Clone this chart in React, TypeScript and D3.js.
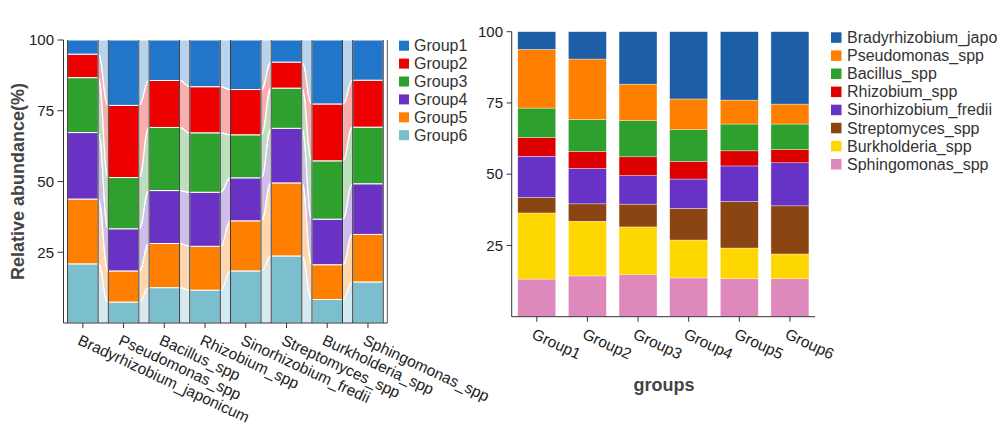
import React from "react";
import * as d3 from "d3";

// ---------- Left chart data ----------
const species = [
  "Bradyrhizobium_japonicum",
  "Pseudomonas_spp",
  "Bacillus_spp",
  "Rhizobium_spp",
  "Sinorhizobium_fredii",
  "Streptomyces_spp",
  "Burkholderia_spp",
  "Sphingomonas_spp",
];
const groupNames = ["Group1", "Group2", "Group3", "Group4", "Group5", "Group6"];
const group1 = [5.0, 23.1, 14.3, 16.5, 17.5, 7.8, 22.6, 14.2];
const group2 = [8.3, 25.5, 16.6, 16.3, 16.0, 9.2, 20.1, 16.6];
const group3 = [19.4, 18.1, 22.3, 21.0, 15.2, 14.2, 20.6, 20.0];
const group4 = [23.5, 14.9, 18.7, 19.1, 15.2, 19.3, 16.1, 17.9];
const group5 = [22.9, 11.0, 15.6, 15.5, 17.7, 25.8, 12.3, 16.8];
const group6 = [20.9, 7.4, 12.5, 11.6, 18.4, 23.7, 8.3, 14.5];
const groupColors = ["#2176c9", "#ee0000", "#2ea02e", "#6a32c4", "#ff8000", "#7bbfcf"];
const leftTicks = [25, 50, 75, 100];

// ---------- Right chart data ----------
const groups = ["Group1", "Group2", "Group3", "Group4", "Group5", "Group6"];
const taxa = [
  "Bradyrhizobium_japo",
  "Pseudomonas_spp",
  "Bacillus_spp",
  "Rhizobium_spp",
  "Sinorhizobium_fredii",
  "Streptomyces_spp",
  "Burkholderia_spp",
  "Sphingomonas_spp",
];
const bradyrhizobium = [6.2, 9.6, 18.4, 23.6, 24.0, 25.4];
const pseudomonas = [20.6, 21.2, 12.8, 10.8, 8.4, 7.0];
const bacillus = [10.3, 11.2, 12.7, 11.1, 9.4, 8.9];
const rhizobium = [6.6, 6.0, 6.6, 6.2, 5.3, 4.7];
const sinorhizobium = [14.4, 12.4, 10.0, 10.3, 12.5, 15.1];
const streptomyces = [5.5, 6.1, 8.0, 11.1, 16.3, 16.9];
const burkholderia = [23.2, 19.2, 16.8, 13.3, 10.8, 8.7];
const sphingomonas = [13.2, 14.3, 14.7, 13.6, 13.3, 13.3];
const taxaColors = ["#1c5fa7", "#ff8000", "#2ea02e", "#dd0000", "#6733c7", "#8b4513", "#ffd700", "#df88bb"];
const rightTicks = [25, 50, 75, 100];

const FONT = "Arial, 'Liberation Sans', sans-serif";

function LeftChart() {
  const series = [group1, group2, group3, group4, group5, group6];
  const rows = species.map((s, i) => {
    const r: any = { name: s };
    groupNames.forEach((g, k) => (r[g] = series[k][i]));
    return r;
  });
  const keys = [...groupNames].reverse();
  const stacked = d3.stack<any>().keys(keys)(rows);
  const x = d3.scaleBand().domain(species).range([63.5, 387.3]).paddingInner(0.25).paddingOuter(0.1);
  const y = d3.scaleLinear().domain([0, 100]).range([323, 40]);
  const bw = x.bandwidth();
  const colorOf = (key: string) => groupColors[groupNames.indexOf(key)];

  const links: React.ReactNode[] = [];
  stacked.forEach((layer) => {
    for (let i = 0; i < species.length - 1; i++) {
      const x1 = (x(species[i]) as number) + bw;
      const x2 = x(species[i + 1]) as number;
      const xm = (x1 + x2) / 2;
      const t1 = y(layer[i][1]), b1 = y(layer[i][0]);
      const t2 = y(layer[i + 1][1]), b2 = y(layer[i + 1][0]);
      const d = `M${x1},${t1}C${xm},${t1} ${xm},${t2} ${x2},${t2}L${x2},${b2}C${xm},${b2} ${xm},${b1} ${x1},${b1}Z`;
      links.push(
        <path key={`${layer.key}-${i}`} d={d} fill={colorOf(layer.key)} fillOpacity={0.32} stroke="#fff" strokeWidth={1.2} />
      );
    }
  });

  return (
    <g>
      {links}
      {stacked.map((layer) =>
        layer.map((seg, i) => (
          <rect
            key={`${layer.key}-${i}`}
            x={x(species[i])}
            y={y(seg[1])}
            width={bw}
            height={y(seg[0]) - y(seg[1])}
            fill={colorOf(layer.key)}
            stroke="#fff"
            strokeWidth={1}
          />
        ))
      )}
      {species.map((s) => {
        const x0 = x(s) as number;
        return (
          <g key={s}>
            <line x1={x0} x2={x0} y1={y(100)} y2={y(0)} stroke="#3a3a3a" strokeWidth={1} />
            <line x1={x0 + bw} x2={x0 + bw} y1={y(100)} y2={y(0)} stroke="#3a3a3a" strokeWidth={1} />
          </g>
        );
      })}
      <line x1={63.5} x2={63.5} y1={y(100)} y2={y(0)} stroke="#333" strokeWidth={1} />
      <line x1={387.3} x2={387.3} y1={y(100)} y2={y(0)} stroke="#555" strokeWidth={1} />
      <line x1={63.5} x2={387.3} y1={y(0)} y2={y(0)} stroke="#333" strokeWidth={1} />
      {leftTicks.map((t) => (
        <g key={t}>
          <line x1={57.5} x2={63.5} y1={y(t)} y2={y(t)} stroke="#333" />
          <text x={54} y={y(t)} dy="0.35em" textAnchor="end" fontSize={15} fill="#222" fontFamily={FONT}>
            {t}
          </text>
        </g>
      ))}
      {species.map((s) => {
        const cx = (x(s) as number) + bw / 2;
        return (
          <g key={s}>
            <line x1={cx} x2={cx} y1={y(0)} y2={y(0) + 5} stroke="#333" />
            <text
              transform={`translate(${cx - 6},${y(0) + 21}) rotate(25)`}
              fontSize={15.5}
              fill="#222"
              fontFamily={FONT}
            >
              {s}
            </text>
          </g>
        );
      })}
      <text
        transform={`translate(24,${(y(0) + y(100)) / 2}) rotate(-90)`}
        textAnchor="middle"
        fontSize={18}
        fontWeight="bold"
        fill="#444"
        fontFamily={FONT}
      >
        Relative abundance(%)
      </text>
      {groupNames.map((g, k) => (
        <g key={g} transform={`translate(399,${45.7 + k * 17.9})`}>
          <rect x={0} y={-5} width={10} height={10} fill={groupColors[k]} />
          <text x={15} y={0} dy="0.36em" fontSize={16} fill="#333" fontFamily={FONT}>
            {g}
          </text>
        </g>
      ))}
    </g>
  );
}

function RightChart() {
  const series = [bradyrhizobium, pseudomonas, bacillus, rhizobium, sinorhizobium, streptomyces, burkholderia, sphingomonas];
  const rows = groups.map((g, i) => {
    const r: any = { name: g };
    taxa.forEach((t, k) => (r[t] = series[k][i]));
    return r;
  });
  const keys = [...taxa].reverse();
  const stacked = d3.stack<any>().keys(keys)(rows);
  const x = d3.scaleBand().domain(groups).range([511.7, 815]).paddingInner(0.25).paddingOuter(0.12);
  const y = d3.scaleLinear().domain([0, 100]).range([316.7, 31.7]);
  const bw = x.bandwidth();
  const colorOf = (key: string) => taxaColors[taxa.indexOf(key)];

  return (
    <g>
      {stacked.map((layer) =>
        layer.map((seg, i) => (
          <rect
            key={`${layer.key}-${i}`}
            x={x(groups[i])}
            y={y(seg[1])}
            width={bw}
            height={y(seg[0]) - y(seg[1])}
            fill={colorOf(layer.key)}
            stroke="#fff"
            strokeWidth={0.5}
            strokeOpacity={0.7}
          />
        ))
      )}
      <line x1={511.7} x2={511.7} y1={y(100)} y2={y(0)} stroke="#333" />
      <line x1={511.7} x2={815} y1={y(0)} y2={y(0)} stroke="#333" />
      {rightTicks.map((t) => (
        <g key={t}>
          <line x1={506.7} x2={511.7} y1={y(t)} y2={y(t)} stroke="#333" />
          <text x={503} y={y(t)} dy="0.35em" textAnchor="end" fontSize={15} fill="#222" fontFamily={FONT}>
            {t}
          </text>
        </g>
      ))}
      {groups.map((g) => {
        const cx = (x(g) as number) + bw / 2;
        return (
          <g key={g}>
            <line x1={cx} x2={cx} y1={y(0)} y2={y(0) + 5} stroke="#333" />
            <text
              transform={`translate(${cx - 6},${y(0) + 21}) rotate(25)`}
              fontSize={15.5}
              fill="#222"
              fontFamily={FONT}
            >
              {g}
            </text>
          </g>
        );
      })}
      <text x={664} y={391} textAnchor="middle" fontSize={18} fontWeight="bold" fill="#444" fontFamily={FONT}>
        groups
      </text>
      {taxa.map((t, k) => (
        <g key={t} transform={`translate(831,${37.3 + k * 18.1})`}>
          <rect x={0} y={-5} width={10.5} height={10.5} fill={taxaColors[k]} />
          <text x={16} y={0} dy="0.36em" fontSize={16} fill="#333" fontFamily={FONT}>
            {t}
          </text>
        </g>
      ))}
    </g>
  );
}

export default function App() {
  return (
    <svg
      width={1000}
      height={425}
      viewBox="0 0 1000 425"
      style={{ position: "absolute", left: 0, top: 0, background: "#fff" }}
    >
      <rect width={1000} height={425} fill="#fff" />
      <LeftChart />
      <RightChart />
    </svg>
  );
}
